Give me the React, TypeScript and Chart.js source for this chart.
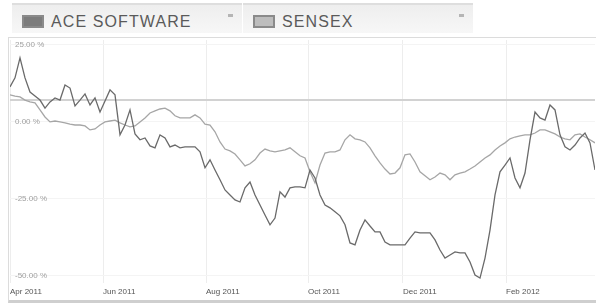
import React, { useEffect, useRef } from 'react';
import { Chart, registerables } from 'chart.js';

Chart.register(...registerables);

// Series names
const SERIES_NAMES = ['ACE SOFTWARE', 'SENSEX'];

// Percent change, sampled at regular intervals from Apr 2011 to Mar 2012
const ACE_SOFTWARE = [
  11.4, 14.3, 20.8, 14.3, 9.7, 8.4, 7.1, 4.5, 6.5, 7.8,
  7.1, 12.0, 11.0, 5.2, 7.1, 9.1, 5.5, 7.8, 3.2, 6.8,
  10.4, 8.8, -4.2, -1.0, 3.9, -3.9, -5.8, -5.2, -7.8, -8.4,
  -4.2, -5.2, -8.1, -7.5, -8.4, -8.1, -8.1, -8.1, -9.7, -14.9,
  -12.3, -15.6, -18.8, -22.1, -23.7, -25.3, -26.0, -21.4, -19.5, -23.7,
  -27.0, -30.2, -33.4, -31.2, -22.7, -24.4, -21.4, -21.1, -21.1, -21.4,
  -15.6, -18.2, -23.7, -27.0, -27.9, -29.2, -30.5, -33.4, -39.3, -39.9,
  -35.1, -31.8, -33.8, -35.7, -35.7, -39.0, -39.9, -39.9, -39.9, -39.9,
  -37.7, -35.7, -36.0, -36.0, -36.0, -38.3, -41.6, -44.2, -43.2, -42.2,
  -42.5, -42.5, -45.5, -49.7, -50.7, -44.2, -35.1, -23.7, -16.2, -14.0,
  -11.7, -18.2, -21.4, -16.6, -5.8, 3.2, 1.3, 0.6, 5.5, 3.9,
  -4.2, -8.1, -9.1, -7.5, -5.2, -3.6, -6.8, -15.6,
];

const SENSEX = [
  8.8, 8.4, 8.1, 7.1, 6.5, 6.2, 3.9, 1.6, 0.0, 0.3,
  0.0, -0.3, -0.7, -1.0, -1.0, -1.3, -2.6, -2.3, -1.0, 0.0,
  0.3, 0.6, -0.3, -1.0, -1.6, -1.3, 0.0, 1.3, 2.9, 3.6,
  4.2, 4.5, 3.6, 2.0, 1.3, 1.3, 1.3, 2.3, 1.3, -0.7,
  -1.0, -3.2, -6.5, -8.8, -9.4, -10.4, -12.3, -14.3, -13.6, -12.3,
  -10.1, -8.8, -9.4, -9.7, -9.4, -9.1, -8.4, -9.7, -11.0, -11.7,
  -16.2, -19.8, -14.0, -10.1, -9.7, -9.7, -9.1, -5.8, -4.2, -5.5,
  -5.8, -6.5, -8.4, -11.0, -13.3, -15.3, -16.9, -16.6, -14.9, -10.7,
  -10.4, -13.0, -16.2, -17.5, -18.8, -17.9, -16.6, -17.2, -18.8, -17.2,
  -16.6, -16.2, -15.3, -14.3, -13.0, -11.7, -10.7, -9.1, -7.8, -6.8,
  -5.5, -4.9, -4.5, -4.2, -4.2, -3.6, -2.6, -2.6, -3.2, -3.9,
  -4.9, -5.5, -5.8, -4.2, -3.9, -4.9, -5.8, -6.8,
];

// Reference level line
const BASELINE = 7.1;

// X axis month labels and their sample positions
const MONTH_LABELS = ['Apr 2011', 'Jun 2011', 'Aug 2011', 'Oct 2011', 'Dec 2011', 'Feb 2012'];
const MONTH_POSITIONS = [0, 18.6, 39.2, 59.6, 78.6, 99.2];

// Y axis tick values
const Y_TICKS = [25, 0, -25, -50];

const FONT = 'Arial, "Liberation Sans", sans-serif';

function LegendItem({ label, left, width, iconColor }: { label: string; left: number; width: number; iconColor: string }) {
  return (
    <div
      style={{
        position: 'absolute',
        left,
        top: 3,
        width,
        height: 30,
        boxSizing: 'border-box',
        borderTop: '2px solid #dedede',
        background: 'linear-gradient(#eeeeee, #f7f7f7)',
      }}
    >
      <div
        style={{
          position: 'absolute',
          left: 10,
          top: 10,
          width: 22,
          height: 13,
          boxSizing: 'border-box',
          border: '2px solid #8a8a8a',
          background: iconColor,
        }}
      />
      <div
        style={{
          position: 'absolute',
          left: 39,
          top: 7,
          fontFamily: FONT,
          fontSize: 16,
          letterSpacing: 1.1,
          color: '#5a5a5a',
          lineHeight: '20px',
          whiteSpace: 'nowrap',
        }}
      >
        {label}
      </div>
      <div
        style={{
          position: 'absolute',
          left: width - 14,
          top: 9,
          width: 5,
          height: 3,
          background: '#b5b5b5',
        }}
      />
    </div>
  );
}

export default function App() {
  const canvasRef = useRef<HTMLCanvasElement | null>(null);

  useEffect(() => {
    const canvas = canvasRef.current;
    if (!canvas) return;
    const n = ACE_SOFTWARE.length;
    const chart = new Chart(canvas, {
      type: 'line',
      data: {
        datasets: [
          {
            label: SERIES_NAMES[0],
            data: ACE_SOFTWARE.map((v, i) => ({ x: i, y: v })),
            borderColor: '#6a6a6a',
            borderWidth: 1.3,
            pointRadius: 0,
            tension: 0,
            order: 0,
          },
          {
            label: SERIES_NAMES[1],
            data: SENSEX.map((v, i) => ({ x: i, y: v })),
            borderColor: '#a6a6a6',
            borderWidth: 1.3,
            pointRadius: 0,
            tension: 0,
            order: 1,
          },
          {
            label: 'baseline',
            data: [
              { x: 0, y: BASELINE },
              { x: n - 1, y: BASELINE },
            ],
            borderColor: '#d2d2d2',
            borderWidth: 2,
            pointRadius: 0,
            order: 2,
          },
        ],
      },
      options: {
        animation: false,
        responsive: false,
        devicePixelRatio: 1,
        layout: { padding: { left: 10, right: 1, top: 40, bottom: 4 } },
        plugins: { legend: { display: false }, tooltip: { enabled: false } },
        scales: {
          x: {
            type: 'linear',
            min: 0,
            max: n - 1,
            afterFit: (s: any) => {
              s.height = 20;
            },
            afterBuildTicks: (s: any) => {
              s.ticks = MONTH_POSITIONS.map((v) => ({ value: v }));
            },
            ticks: {
              align: 'start',
              maxRotation: 0,
              autoSkip: false,
              padding: 4,
              color: '#555',
              font: { family: FONT, size: 8 },
              callback: (_v: any, idx: number) => MONTH_LABELS[idx],
            },
            grid: { color: '#ededed', drawTicks: false },
            border: { display: false },
          },
          y: {
            min: -52.3,
            max: 26.6,
            afterFit: (s: any) => {
              s.width = 0;
            },
            afterBuildTicks: (s: any) => {
              s.ticks = Y_TICKS.map((v) => ({ value: v }));
            },
            ticks: {
              mirror: true,
              padding: 5,
              color: '#a0a0a0',
              font: { family: FONT, size: 8 },
              callback: (v: any) => Number(v).toFixed(2) + ' %',
            },
            grid: { color: '#f4f4f4', drawTicks: false },
            border: { display: false },
          },
        },
      },
    });
    return () => chart.destroy();
  }, []);

  return (
    <div style={{ position: 'absolute', left: 0, top: 0, width: 596, height: 307, overflow: 'hidden', background: '#fff' }}>
      <LegendItem label={SERIES_NAMES[0]} left={12} width={230} iconColor="#7c7c7c" />
      <LegendItem label={SERIES_NAMES[1]} left={243} width={230} iconColor="#bdbdbd" />
      <div
        style={{
          position: 'absolute',
          left: 8,
          top: 37,
          width: 600,
          height: 266,
          boxSizing: 'border-box',
          borderTop: '1px solid #dcdcdc',
          borderLeft: '1px solid #dcdcdc',
          borderBottom: '3px solid #cfcfcf',
        }}
      />
      <canvas ref={canvasRef} width={596} height={307} style={{ position: 'absolute', left: 0, top: 0, width: 596, height: 307 }} />
    </div>
  );
}
